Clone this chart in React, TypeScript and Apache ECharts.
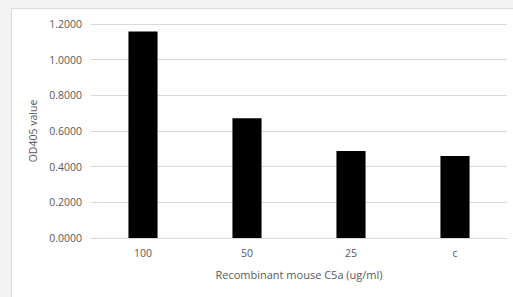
import React, { useEffect, useRef } from "react";
import * as echarts from "echarts";

const categories = ["100", "50", "25", "c"];
const values = [1.158, 0.672, 0.488, 0.46];
const yTicks = { min: 0, max: 1.2, interval: 0.2 };
const xAxisName = "Recombinant mouse C5a (ug/ml)";
const yAxisName = "OD405 value";

export default function App() {
  const ref = useRef<HTMLDivElement>(null);
  useEffect(() => {
    const chart = echarts.init(ref.current!, null, { renderer: "svg" });
    const font = "'Open Sans', 'Noto Sans', sans-serif";
    chart.setOption({
      animation: false,
      backgroundColor: "#f3f3f3",
      graphic: [
        {
          type: "rect",
          z: -10,
          shape: { x: 11.5, y: 8.5, width: 520, height: 300 },
          style: { fill: "#ffffff", stroke: "#dcdcdc", lineWidth: 1 },
        },
      ],
      grid: { left: 91, right: 6, top: 24, bottom: 59 },
      xAxis: {
        type: "category",
        data: categories,
        name: xAxisName,
        nameLocation: "middle",
        nameGap: 31,
        nameTextStyle: { color: "#595959", fontSize: 11, fontFamily: font },
        axisLine: { lineStyle: { color: "#d9d9d9" } },
        axisTick: { show: false },
        axisLabel: { color: "#595959", fontSize: 10.5, fontFamily: font, margin: 9 },
      },
      yAxis: {
        type: "value",
        min: yTicks.min,
        max: yTicks.max,
        interval: yTicks.interval,
        name: yAxisName,
        nameLocation: "middle",
        nameGap: 47,
        nameRotate: 90,
        nameTextStyle: { color: "#595959", fontSize: 10.5, fontFamily: font },
        axisLine: { show: false },
        axisTick: { show: false },
        axisLabel: {
          color: "#595959",
          fontSize: 10.5,
          fontFamily: font,
          margin: 9,
          formatter: (v: number) => v.toFixed(4),
        },
        splitLine: { lineStyle: { color: "#d9d9d9" } },
      },
      series: [
        {
          type: "bar",
          data: values,
          barWidth: "28%",
          itemStyle: { color: "#000000" },
        },
      ],
    });
    return () => chart.dispose();
  }, []);
  return (
    <div style={{ position: "fixed", left: 0, top: 0, width: 513, height: 297 }}>
      <div ref={ref} style={{ width: 513, height: 297 }} />
    </div>
  );
}
